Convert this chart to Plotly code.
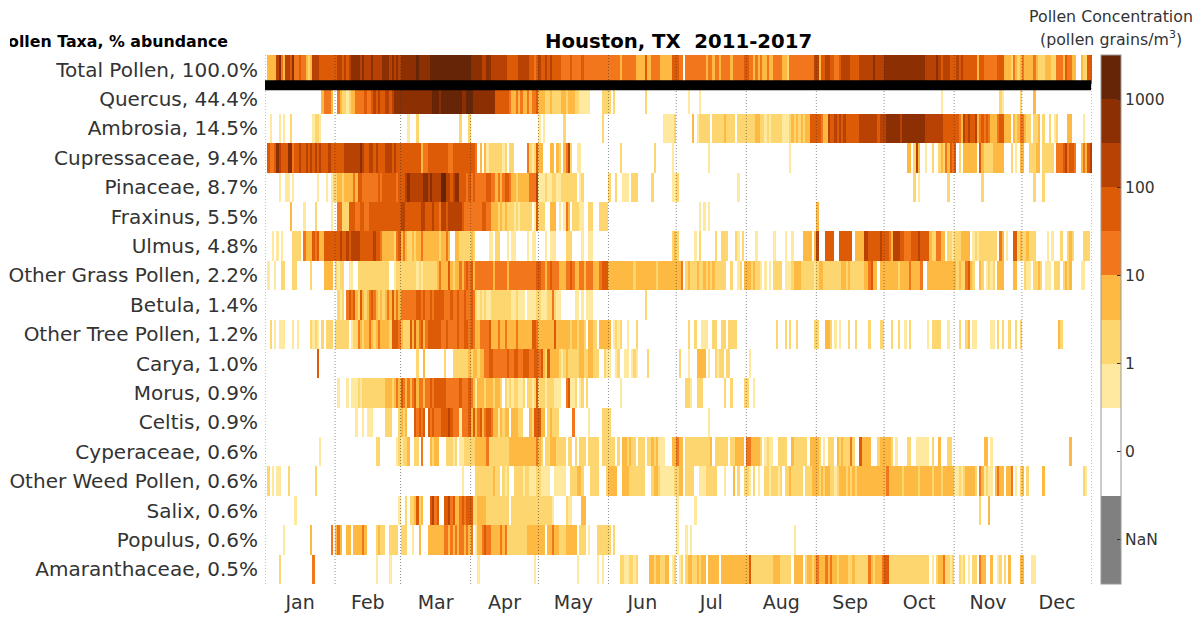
import plotly.graph_objects as go

MONTHS = ["Jan","Feb","Mar","Apr","May","Jun","Jul","Aug","Sep","Oct","Nov","Dec"]
MONTH_DAYS = [31,29,31,30,31,30,31,31,30,31,30,31]
TAXA = ["Total Pollen, 100.0%","Quercus, 44.4%","Ambrosia, 14.5%","Cupressaceae, 9.4%","Pinaceae, 8.7%",
        "Fraxinus, 5.5%","Ulmus, 4.8%","Other Grass Pollen, 2.2%","Betula, 1.4%","Other Tree Pollen, 1.2%",
        "Carya, 1.0%","Morus, 0.9%","Celtis, 0.9%","Cyperaceae, 0.6%","Other Weed Pollen, 0.6%",
        "Salix, 0.6%","Populus, 0.6%","Amaranthaceae, 0.5%"]

# one string per month, one digit per day (spaces ignored, "" = no pollen all month):
# the colour class for that day
total = ["0333367436657445443236665555555","5665 656 7777 67 666 7 6666 777 6767 6","7777777 8 77777 888888888888888888","77777 66 77 6666666 55555 66666 5545",
 "65565 6 5555 4444 54 444 5 4444 4 444444","44444 3 444444 3333 5 33 4444 33333 55","544 0 444444444 3 44 3 44 3 4444 3 44444 5","5 4 4 3 4 3 4 3 3 4 3 3 4 4 4 4 3 3 2 44444444444 6",
 "6 3 55 66 55 44 5 6666 5555 666666 7 6666","777777777777777777 66666 7 6566655","5 6 5 6 5 5 5 5 5 5 3 5 5 4 44444 555 333 2 4 3 2 3","4 3 3 3 3 4 3 2 2 2 3 3 3 2 2 4 4 4 3 5 4 4 3 3 0 0 3 2 2 5 5"]
quercus = ["00000 00000 00000 00000 00000 344430","04322123344445445656556656777","77777 77777 7777 888 7 88888 8888 77 88","8 7777777777 555555 4 3 3 4 3 4 3 3 4 3 4 4 5",
 "3 3 3 2 2 3 2 2 2 2 3 3 2 3 3 3 2 2 1 1 1 1 1 0 0 0 0 0 2 2 2","2 0 2 0000000000000 2 0000000000000","00000 1 0000 1 00000 00000 00000 00000","","","00000 00000 00000 00000 00000 1 00000","00000 00000 00000 00000 21 0000000 2","00000 3 00000 00000 00000 00000 00000"]
ambrosia = ["00100 01010 02 00000 0000 1221 000000","","000 1 000 2 000000000000000000 2 000 2","",
 "1 0 1 0 0 0 0 0 0 0 0 2 0000000000000000 2 0 0","000000000000000000000000 11111 2","0000000 3 0 1 22222 0 22222 3 2222 0 2222","2222 33 22 1 2 1 2 2222 111 2 3 2 3 2 3 2 33 555",
 "5 5 4 3 3 6 5 5 6 5 6 5 6 5 55555 6666666 6 5 6 6","6 777777 6 7777777777 66666666 55555","5 5 4 3 6 5 6 5 5 6 3 4 5 4 5 4 3 3 3 4 5 5 3 3 3 0 3 2 3 4","4 3 2 2 0 2 2 3 0 2 0 0 2 0 1 2 0 0 0 0 3 3 0 0 0 0 0 1 0 0 0"]
cupress = ["0 5 4 4 5 7 6 5 5 5 7 7 4 5 5 6 5 5 6 5 6 5 6 5 6 5 5 5 6 5 5","5555 6666666 7 6 5 5 6 6 5 6 5 5 5 6 6 6 5 6 5 5","555555555 3 4 4 555555555 4 4 5 5555555","5 5 4 0 3 0 3 1 2 22222 1 2 0 2 2 000000 4 2 1 2 5",
 "3 3 0 0 0 3 3 0 3 2 0 3 4 6 2 0 0 1 1 000000000000","00000 2 00000000000000 2 0000000 1 0","00000000000000 1 0000000000000000","0000000000000000000 1 00000000000",
 "","0000000000 3 3 0 2 6 3 0 0 1 0 0 2 0 0 2 3 2 4 3 5 4","5 0 2 0 333333 0 5 3 2222 33333 000 2 0 1 0 3","3 0 0 2 2 2 3 3 0 22222 0 4 4 4 5 6 4 5 5 4 0 0 3 4 3 5 6"]
pinaceae = ["000000 1 00 1 1 0 1 0000000000 1 000 1 0 1 2","2 3 3 2 3 3 3 3 4 3 5 5 4 444444 5 4 5 5555 5 4 5","5 5 6 7 6 66666 7 7 6 7 6 666 8 8 6 6 5 6 7 7 5 5 5 4 5","4 5 4 4 4 4 4 5 5 4 4 3 4 3 4 5 5 4 3 3 2 3 3 3 3 3 4 4 4 6",
 "1 1 1 2 1 1 2 2 1 1 2 2 2 2 2 2 2 0 1 2 00000000000","2 0 0 2 0 0 1 1 1 0 2 2 2 0 0 0 0 0 0 2 0 0 0 0 0 0 0 0 1 1","2 00000000000000000000000000 1 000","",
 "","0000000000000 2 0 1 000000000000 2 00","000000000000 2 00000000000000000","00000 2 000 2 000000000000000000000"]
fraxinus = ["00000000000 3 00000 1 0000 2 000000 1 0","0 4 4 2 2 2 5 5 5 4 4 5 5 4 4 55555555555555","6 6 5 5 5 5 5 5 5 6 6 5 5 5 6 5 5 4 6 6 5 6 6 6 6 6 6 5 4 4 4","4 4 4 4 4 5 5 4 4 3 3 3 2 3 2 3 2 2 2 1 2 1 2 2 2 2 2 0 1 5",
 "2 2 2 0 0 3 3 3 0 1 0 1 4 3 0 2 2 2 1 1 0 0 2 2 0 0 0 2 2 2 2","","0000000000 1 0 1 0 1 0000000000000000","","3 00000000000000000000000000000","","",""]
ulmus = ["000 1 0 1 0 1 0000 2222 0 4 333 5 4 5 33 55555","5 5 6 5 5 6 5 6 6 6 6 5 5 5 5 5 5 6 5 5 4 3 3 3 3 3 2 4 5","3 4 3 2 2 3 2 3 3 4 3 3 3 3 3 3 3 2 3 3 4 3 0 0 3 3 2 2 2 2 2","3 2 000000 1 1 0 2 2 000 1 0 1 1 00000 1 0 1 1 0",
 "0 0 0 1 0 1 1 1 0 0 0 0 2 2 2 0 0 0 0 1 0 0 1 1 0000000","0000000000000000000000000000 2 3","2 0000000 1 0 2 000000 2 00 222 000 2 1 0 2 0","0000 1 0000000 1 0000 1 00 1 0000 3333 0 3",
 "6 0 0 0 5 5 5 5 0 0 5 5 5 5 5 5 0 3 3 3 3 6 6 5 5 5 5 5 6 5","5 5 4 3 6 6 6 5 5 4 4 4 5 5 5 6 5 5 5 5 3 2 2 4 4 3 3 0 2 2 1","2 2 2 3 3 3 3 0 1 2 1 2 2 2 2 2 2 2 2 0 4 3 0 1 0 0 5 5 2 3","2 2 3 2 2 2 0 0 0 0 0 1 0 1 0 0 0 2 0 0 2 3 2 0 0 0 0 2 2 2 0"]
grass = ["0100100220002200000020000033330","2 1 2 2 0 0 1 1 0 0 2 2222222222222 0 0 1 2 2","2222222 1 2 1 2 2222 2 3 4 3 3 3 5 3 2 3 3 4 3 4 5 4","5 3 4 4444444 3 44444 3 4 444 44444444 5",
 "5 4 4 3 4 5 4 4 4 3 3 3 4 4 5 4 3 3 4 4 3 4 4 4 3 3 3 4 5 5 5","33333333333 2 333333333 2 33333333","3 3 4 0 2 3 2 2 2 3 2 2 3 2 3 2 3 2 2 2 2 2 0 0 2 0 0 1 2 0 3","3 3 2 3 2 2 1 0 1 0 1 0 2 2 2 2 0 1 1 1 2 3 3 3 2 2 2 2 2 2 1",
 "2 3 3 2 2 2 2 2 2 2 2 3 3 2 3 2 2 2 2 2 2 3 3 4 5 3 3 0 3 3","333333 2 3333 4 3333 4 00 3 33333333333","3 2 3 2 2 4 5 3 2 0 0 3 2 0 1 2 1 2 0 3 3 3 0 0 0 0 3 3 0 0","0 2 1 1 0 2 2 3 2 0 1 1 1 0 2 2 2 0 2 3 2 3 0 0 0 0 1 1 0 0 0"]
betula = ["","0 2 1 2 0 4 5 4 5 3 2 5 3 2 3 4 5 4 3 2 3 2 3 4 3 5 3 4 3","4444444 5 5 4 5 4 4 5 4 5 5 5 5 4 4 4 5 4 4 5 4 4 5 4 4","5 4 2 1 2 1 2 1 1 2 2 2 2 2 2 2 2 2 1 1 2 1 1 1 0 1 1 1 1 2",
 "2 1 1 1 2 2 4 2 1 1 000000 1 1 0 1 0 1 1 1 0000000","0000000000000000 2 0000000000000","","","","","",""]
other_tree = ["0020101110001010000021210202220","2 2 2 2 2 2 0 1 2 2 4 3 2 3 3 4 3 2 3 4 3 3 3 3 2 5 5 5 4","3 2 2 2 5 3 5 3 4 5 3 4 5 5 5 5 5 5 4 4 5 4 4 4 4 5 4 4 5 5 4","5 4 3 3 4 4 4 4 5 3 3 3 4 3 3 4 3 3 3 3 4 3 3 3 3 3 3 5 5 4",
 "3 3 3 3 3 3 3 5 3 3 3 3 3 3 2 3 3 2 3 3 2 0 3 3 2 2 0 3 3 3 3","3 0 1 2 1 2 0 0 1 0 0 0 2 00000000000000000","0 0 0 0 0 2 0 0 2 0 0 1 1 1 0 0 2 2 0 0 2 2 0 2 2 2 2 0 0 0 0","0000000000000 2 000 2 0 2 00 2 0000000 2",
 "2 0 0 0 3 3 2 0 1 0 1 0 0 0 2 0 0 2 0 0 0 0 0 2 0 0 0 0 2 2","000 2 00 2 00 1 0 2 0000000 1 0 2222 000 1 00","00 2 00 2 3 0 1 1 000000 1 1 0 2 0 2 00 2 00 2 0 2","0000000000000000 3 2 0000000000000"]
carya = ["00000000000000000000000 5 0000000","","0000000 2 00 3 00000000 2 000 2222222 3","2 3 3 2 3 3 4 4 5 5 4 4 4 4 4 4 5 4 4 5 5 4 4 5 5 5 4 4 5 5",
 "4 5 3 2 5 3 3 3 3 2 1 2 3 2 2 2 2 2 3 3 2 2 3 3 2 2 2 0 0 2 1","1 0 0 1 2 0 0 1 1 0 1 2 1 0 0 0 0 2 000000000000","0200010003333010021220220000000","01 00000000000000000000000000000","","","",""]
morus = ["","0 1 0 0 0 1 0 1 1 1 2 1 2 2 2 2 2 2 2 2 2 2 3 3 3 2 3 4 3","5 4 3 4 3 4 5 3 4 4 3 4 4 5 4 5 5 5 5 5 4 4 4 4 4 4 5 4 4 4 5","4 3 1 3 3 3 2 3 3 3 2 3 3 2 0 2 1 2 1 2 2 1 1 2 0 2 2 1 2 5",
 "2 2 2 1 2 2 2 1 1 1 0 0 4 5 1 1 2 0 1 2 0 2 000000000","00000 1 000000000000000000000000","0000 2 2 1 00 2 2 2 000000000 2 00 2 00000 2","2 0 0 1 000000000000000000000000000","","","",""]
celtis = ["","000000000 1 00 1 0 111 00000 222 000 2","3 2 3 0 0 0 5 4 5 4 5 0 5 4 5 4 4 4 5 5 5 6 5 4 4 4 1 4 4 4 5","3 5 3 4 5 3 4 5 5 4 3 3 1 3 2 3 3 0 3 3 3 2 2 0 0 0 3 2 5 5",
 "5 3 3 0 2 3 2 2 2 0 0 0 0 0 0 4 0 0 0 0 0 0 1 0 0 0 0 0 2 2 2","2 00000000000000000000000000000","00000000000000 1 0000000000000000","","","","",""]
cyper = ["000000000000000000000000 1 000000","000000000000000000 2 2 0000000 1 2","1 2 2 3 0 0 2 2 0 4 0 0 0 3 2 3 3 0 0 0 2 2 2 1 2 0 1 1 2 2 2","2 2 3 3 3 3 3 4 222222222 333333333333 4",
 "3 2 0 2 2 3 3 3 2 2 2 2 0 2 2 0 2 0 2 2 2 0 2 2 2 2 2 0 2 2 2","2 2 2 0 2 0 3 3 2 3 2 2 0 2 2 2 0 2 2 3 2 3 1 1 1 0 0 0 3 3","4 3 3 0 22222222222 3 0 222222 0 2 2 3 3 3 3 0","4 4 3 3 3 3 2 0 1 2 1 1 0 0 2 2 2 2 0 0 3 2 2 2 2 2 2 0 3 3 3",
 "3 2 0 1 0 2 2 2 0 3 2 3 2 2 2 4 2 0 0 5 3 3 3 3 0 0 0 2 3 3","3 3 3 2 0 1 0 0 0 0 2 2 0 0 1 1 1 1 1 1 0 2 0 0 3 0 0 0 2 2 0","0000000000000 3 3 0 1 0000000000000","000000000000000000000 3 000000000"]
weed = ["0201011000 2 00000000000 2 00000000","","000000000000000000000000000 1 000","0 0 2 2 2 2 2 2 2 2 3 2 2 0 2 1 2 0 0 2 2 2 2 1 2 2 1 1 1 2",
 "2 1 1 1 1 0 0 1 1 1 1 1 0 0 2 2 2 3 3 2 0 0 0 2 2 2 2 0 0 0 2","3 3 3 3 0 0 3 3 3 2 2 2 2 2 2 2 0 0 0 2 3 3 2 1 1 1 1 1 1 2","2 3 3 0 2 2 2 2 0 0 1 1 1 2 2 2 2 2 0 0 0 1 0 0 0 3 0 2 0 0 2","2 1 0 2 0 1 0 0 2 2 1 2 2 2 1 2 0 2 2 3 2 2 2 2 2 0 2 2 2 3 3",
 "3 2 3 2 3 3 2 2 1 2 3 3 3 2 3 2 3 2 333333333333","3 4 3 3 3 3 3 3 2 3 3 3 3 3 3 2 3 3 3 3 3 2 3 3 3 2 3 3 3 3 3","1 1 2 1 2 3 3 3 3 2 0 4 3 1 2 1 1 0 3 4 3 3 0 3 3 4 0 1 0 2","3 0 2 000000 3 00000000000000000 2 1 00"]
salix = ["0000000000000 1 00000000000000000","0000000000000000000000000000 1","0 0 2 0 2 2 3 5 2 3 0 0 0 5 6 4 5 0 0 5 5 6 4 5 3 3 4 5 4 5 5","5 2 2 3 3 3 3 2222222222 0 222222222222",
 "2222221 00000 2 1 1 0000 3 3 0000000000","","1 0000000 1 0000000000000000000000","","","","00000000000 2 000 3 00000000000000",""]
populus = ["00000000 1 00000000000 3 00000000 4 0","3 4 3 0 0 3 3 0 3 3 3 3 4 3 0 0 0 0 2 3 2 2 0 0 2 2 2 2 0","2 2 2 0 0 1 0 0 3 0 0 0 3 3 3 3 3 3 3 4 4 3 4 3 4 3 4 4 3 4 3","4 0 1 3 3 4 5 4 4 3 3 3 3 4 3 4 222222222 33333",
 "3 3 3 0 3 3 4 3 3 2 2 2 3 3 3 3 3 0 2 2 2 0 1 0 0 0 2 2 2 2 2","2 0 2 000000000000000000000000000","1 000 1 0 1 000000000000000000000000","000000000000000000000 1 000000000","","","",""]
amaranth = ["000000 2 00000000000000 4 000000000","000000000000000000 1 00000 1 0000","","000 1 000000000000000000000000 1 0",
 "00000000000000000 1 00000000 1 0 1 00","00000 2 2 1 1 2 2 1 2 00000 3 3 2 3 3 2 2 3 3 0 1 2","0 1 2 0 2 3 3 2 2 3 2 3 3 0 3 3 3 3 3 0 3 3333333333","3 5 2 222222222 333 22222 0 3333 0 2 3 3 2 3",
 "4 3 3 3 4 3 4 3 3 2 3 3 3 3 2 2 3 2 2 2 2 2 2 4 3 2 3 3 3 4","5 5 222222222222222222 0 1 0 2 3 3 4 2 2 1 2","0 0 2 1 2 0 1 0 2 2 0 4 3 3 0 0 3 0 0 1 2 0 2 0 3 0 0 0 0 3","3 000 1 1 0000000000000000000000000"]

ROWS = [total,quercus,ambrosia,cupress,pinaceae,fraxinus,ulmus,grass,betula,other_tree,carya,morus,celtis,cyper,weed,salix,populus,amaranth]

LEVEL_COLORS = ["#ffffff","#fee99f","#fed670","#feb942","#f1761c","#dd5a07","#b84203","#8c2f03","#662506"]
CBAR_TICKS = ["NaN","0","1","10","100","1000"]
CBAR_POS = [-1,1,3,5,7,9]

problems = []
def expand(months, r):
    out = []
    for m, (s, n) in enumerate(zip(months, MONTH_DAYS)):
        s = s.replace(" ", "")
        if s and len(s) != n:
            problems.append(f"row{r} m{m}: {len(s)} vs {n}")
        s = s[:n].ljust(n, "0")
        out.extend(int(c) for c in s)
    return out

def to_z(level):
    return 1 if level == 0 else level + 1.5

z = [[to_z(v) for v in expand(r, i)] for i, r in enumerate(ROWS)]
if problems:
    raise SystemExit("; ".join(problems))
xs = [i + 0.5 for i in range(sum(MONTH_DAYS))]

cs = []
def band(lo, hi, col):
    cs.append([(lo + 2) / 12, col]); cs.append([(hi + 2) / 12, col])
band(-2, 0, "#808080"); band(0, 2, LEVEL_COLORS[0])
for i in range(1, 9):
    band(i + 1, i + 2, LEVEL_COLORS[i])

W, H = 1203, 618
L, R, T, B = 265, 1092, 55, 584
FONT = "DejaVu Sans"
fig = go.Figure(go.Heatmap(
    z=z, x=xs, y=list(range(len(TAXA))), zmin=-2, zmax=10, colorscale=cs, hoverongaps=False,
    colorbar=dict(x=1101/W, xanchor="left", y=(H-B)/H, yanchor="bottom", len=(B-T)/H, lenmode="fraction",
                  thickness=20, thicknessmode="pixels", xpad=0, ypad=0, outlinecolor="#999999", outlinewidth=1,
                  tickmode="array", tickvals=CBAR_POS, ticktext=CBAR_TICKS, ticks="inside", ticklen=4,
                  tickcolor="#333333", tickfont=dict(family=FONT, size=15.5, color="#333333")),
))

cum = [0]
for d in MONTH_DAYS:
    cum.append(cum[-1] + d)
mid = [(a + b) / 2 for a, b in zip(cum[:-1], cum[1:])]

shapes = [dict(type="line", xref="x", yref="y", x0=c, x1=c, y0=17.5, y1=-0.5,
               line=dict(color="rgba(50,50,50,0.55)", width=1, dash="1px,2px"), layer="above") for c in cum]
shapes.append(dict(type="line", xref="x", yref="y", x0=0, x1=365.6, y0=0.53, y1=0.53,
                   line=dict(color="black", width=10), layer="above"))

fig.update_layout(
    width=W, height=H, autosize=False, margin=dict(l=0, r=0, t=0, b=0), paper_bgcolor="white", plot_bgcolor="white",
    xaxis=dict(domain=[L/W, R/W], range=[0, 366], tickmode="array", tickvals=mid, ticktext=MONTHS, ticks="",
               showgrid=False, zeroline=False, showline=False, ticklabelstandoff=5,
               tickfont=dict(family=FONT, size=19, color="#333333")),
    yaxis=dict(domain=[(H-B)/H, (H-T)/H], range=[17.5, -0.5], tickmode="array", tickvals=list(range(len(TAXA))), ticktext=TAXA,
               ticks="", showgrid=False, zeroline=False, showline=False, ticklabelstandoff=6,
               tickfont=dict(family=FONT, size=20, color="#333333")),
    shapes=shapes,
    annotations=[
        dict(text="<b>Houston, TX  2011-2017</b>", xref="paper", yref="paper", x=678/W, y=1-41/H, showarrow=False,
             font=dict(family=FONT, size=19.7, color="black"), xanchor="center", yanchor="middle"),
        dict(text="<b>Pollen Taxa, % abundance</b>", xref="paper", yref="paper", x=228/W, y=1-41/H, showarrow=False,
             width=218, height=24, align="right", borderpad=0, borderwidth=0,
             font=dict(family=FONT, size=15.8, color="black"), xanchor="right", yanchor="middle"),
        dict(text="Pollen Concentration", xref="paper", yref="paper", x=1111/W, y=1-16/H, showarrow=False,
             font=dict(family=FONT, size=15.8, color="#333333"), xanchor="center", yanchor="middle"),
        dict(text="(pollen grains/m<sup>3</sup>)", xref="paper", yref="paper", x=1111/W, y=1-39/H, showarrow=False,
             font=dict(family=FONT, size=15.8, color="#333333"), xanchor="center", yanchor="middle"),
    ],
)
fig.write_html("out.html", config=dict(displayModeBar=False),
               post_script="document.body.style.margin='0';document.body.style.overflow='hidden';")
